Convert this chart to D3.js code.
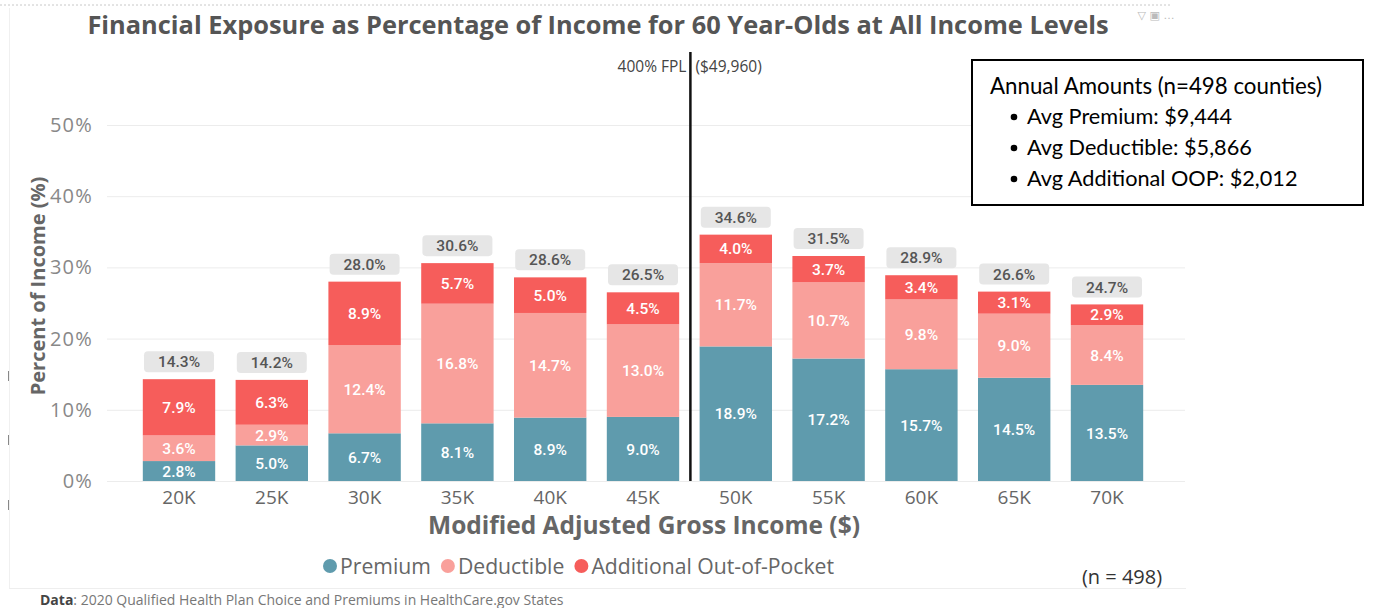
<!DOCTYPE html>
<html><head><meta charset="utf-8">
<script src="https://cdn.jsdelivr.net/npm/d3@7"></script>
<style>
body{margin:0;background:#fff;}
svg{display:block;}
</style></head>
<body><svg id="c" width="1382" height="608"></svg>
<script>
const categories = ["20K","25K","30K","35K","40K","45K","50K","55K","60K","65K","70K"];
const premium    = [2.8, 5.0, 6.7, 8.1, 8.9, 9.0, 18.9, 17.2, 15.7, 14.5, 13.5];
const deductible = [3.6, 2.9, 12.4, 16.8, 14.7, 13.0, 11.7, 10.7, 9.8, 9.0, 8.4];
const oop        = [7.9, 6.3, 8.9, 5.7, 5.0, 4.5, 4.0, 3.7, 3.4, 3.1, 2.9];
const totals     = [14.3, 14.2, 28.0, 30.6, 28.6, 26.5, 34.6, 31.5, 28.9, 26.6, 24.7];
const yTicks = [0, 10, 20, 30, 40, 50];
const seriesNames = ["Premium", "Deductible", "Additional Out-of-Pocket"];
const seriesColors = ["#5f9bad", "#f9a09b", "#f65d5b"];
const fplLabelLeft = "400% FPL";
const fplLabelRight = "($49,960)";
const boxTitle = "Annual Amounts (n=498 counties)";
const boxItems = ["Avg Premium: $9,444", "Avg Deductible: $5,866", "Avg Additional OOP: $2,012"];

const svg = d3.select("#c");
const x = d3.scaleBand().domain(categories).range([132.6, 1153.4]).paddingInner(0.22).paddingOuter(0.11);
const y = d3.scaleLinear().domain([0, 50]).range([481, 125]);

// frame
svg.append("line").attr("x1",0).attr("x2",1172).attr("y1",5).attr("y2",5)
  .attr("stroke","#c8c8c8").attr("stroke-dasharray","2,2");
svg.append("line").attr("x1",9.5).attr("x2",9.5).attr("y1",8).attr("y2",588).attr("stroke","#f0f0f0");
svg.append("line").attr("x1",9).attr("x2",1186).attr("y1",588.5).attr("y2",588.5).attr("stroke","#eeeeee");
[376,440,505].forEach(v=>svg.append("line").attr("x1",8.5).attr("x2",8.5).attr("y1",v-5).attr("y2",v+5).attr("stroke","#888"));
svg.append("text").attr("x",1156).attr("y",19).attr("text-anchor","middle").attr("font-family","DejaVu Sans")
  .attr("font-size",11).attr("fill","#bbb").text("\u25BD  \u25A3  \u2026");

// title
svg.append("text").attr("x",598).attr("y",34).attr("text-anchor","middle")
  .attr("font-family","Open Sans").attr("font-weight","bold").attr("font-size",25.4).attr("fill","#555")
  .text("Financial Exposure as Percentage of Income for 60 Year-Olds at All Income Levels");

// grid
const grid = svg.append("g");
grid.selectAll("line").data(yTicks).join("line")
  .attr("x1",107).attr("x2",1185).attr("y1",d=>y(d)+0.5).attr("y2",d=>y(d)+0.5)
  .attr("stroke","#ececec");

// y axis
const yAxis = svg.append("g").attr("transform","translate(97,0)")
  .call(d3.axisLeft(y).tickValues(yTicks).tickSize(0).tickPadding(4).tickFormat(d=>d+"%"));
yAxis.select(".domain").remove();
yAxis.selectAll("text").attr("font-family","Open Sans").attr("font-size",20).attr("letter-spacing","1.2").attr("fill","#888");

svg.append("text").attr("transform","translate(45,286) rotate(-90)").attr("text-anchor","middle")
  .attr("font-family","Open Sans").attr("font-weight","bold").attr("font-size",20).attr("fill","#666")
  .text("Percent of Income (%)");

// x axis
const xAxis = svg.append("g").attr("transform","translate(0,485)")
  .call(d3.axisBottom(x).tickSize(0).tickPadding(5));
xAxis.select(".domain").remove();
xAxis.selectAll("text").attr("font-family","Open Sans").attr("font-size",19).attr("fill","#666");

svg.append("text").attr("x",644).attr("y",534).attr("text-anchor","middle")
  .attr("font-family","Open Sans").attr("font-weight","bold").attr("font-size",24.5).attr("fill","#666")
  .text("Modified Adjusted Gross Income ($)");

// stacked bars
const rows = categories.map((c,i)=>({cat:c, Premium:premium[i], Deductible:deductible[i], "Additional Out-of-Pocket":oop[i], total:totals[i]}));
const stack = d3.stack().keys(seriesNames)(rows);
const bars = svg.append("g");
stack.forEach((layer, li)=>{
  const g = bars.append("g").attr("fill", seriesColors[li]);
  g.selectAll("rect").data(layer).join("rect")
    .attr("x", d=>x(d.data.cat)).attr("width", x.bandwidth())
    .attr("y", d=>y(d[1])).attr("height", d=>y(d[0])-y(d[1]));
  bars.append("g").selectAll("text").data(layer).join("text")
    .attr("x", d=>x(d.data.cat)+x.bandwidth()/2).attr("y", d=>(y(d[0])+y(d[1]))/2)
    .attr("dy","0.36em").attr("text-anchor","middle")
    .attr("font-family","Roboto").attr("font-weight","500").attr("font-size",15.5).attr("fill","#fff")
    .text(d=>(d[1]-d[0]).toFixed(1)+"%");
});

// totals labels
const tl = svg.append("g");
const tg = tl.selectAll("g").data(rows).join("g")
  .attr("transform", (d,i)=>`translate(${x(d.cat)+x.bandwidth()/2},${y(d3.sum([premium[i],deductible[i],oop[i]]))-6})`);
tg.append("rect").attr("x",-35).attr("width",70).attr("y",-22).attr("height",21).attr("rx",4).attr("fill","#e6e6e6");
tg.append("text").attr("y",-11.5).attr("dy","0.36em").attr("text-anchor","middle")
  .attr("font-family","Roboto").attr("font-weight","500").attr("font-size",15.5).attr("fill","#555")
  .text(d=>d.total.toFixed(1)+"%");

// FPL line
const lineX = x("45K") + x.bandwidth() + x.step()*x.paddingInner()/2 + 1;
svg.append("line").attr("x1",lineX).attr("x2",lineX).attr("y1",52).attr("y2",y(0))
  .attr("stroke","#111").attr("stroke-width",2.5);
svg.append("text").attr("x",lineX-4).attr("y",72).attr("text-anchor","end")
  .attr("font-family","Open Sans").attr("font-size",15.5).attr("fill","#444").text(fplLabelLeft);
svg.append("text").attr("x",lineX+5).attr("y",72)
  .attr("font-family","Open Sans").attr("font-size",15.5).attr("fill","#444").text(fplLabelRight);

// legend
const leg = svg.append("g").attr("transform","translate(330,566)");
let lx = 0;
seriesNames.forEach((n,i)=>{
  const g = leg.append("g").attr("transform",`translate(${lx},0)`);
  g.append("circle").attr("r",7).attr("fill",seriesColors[i]);
  const t = g.append("text").attr("x",10).attr("dy","0.36em")
    .attr("font-family","Open Sans").attr("font-size",21.2).attr("fill","#666").text(n);
  lx += 10 + t.node().getComputedTextLength() + 17;
});

svg.append("text").attr("x",1122).attr("y",584).attr("text-anchor","middle")
  .attr("font-family","Open Sans").attr("font-size",20).attr("fill","#333").text("(n = 498)");

// source
const src = svg.append("text").attr("x",40).attr("y",605).attr("font-family","Open Sans").attr("font-size",14).attr("fill","#777");
src.append("tspan").attr("font-weight","bold").attr("fill","#444").text("Data");
src.append("tspan").text(": 2020 Qualified Health Plan Choice and Premiums in HealthCare.gov States");

// annotation box
svg.append("rect").attr("x",972).attr("y",60).attr("width",391).attr("height",145)
  .attr("fill","#fff").attr("stroke","#000").attr("stroke-width",2);
svg.append("text").attr("x",990).attr("y",94).attr("font-family","Lato").attr("font-size",22.3).attr("fill","#000").text(boxTitle);
boxItems.forEach((s,i)=>{
  svg.append("circle").attr("cx",1014).attr("cy",117+i*31).attr("r",3.3).attr("fill","#000");
  svg.append("text").attr("x",1027).attr("y",124+i*31).attr("font-family","Lato").attr("font-size",21.7).attr("fill","#000").text(s);
});
</script></body></html>
